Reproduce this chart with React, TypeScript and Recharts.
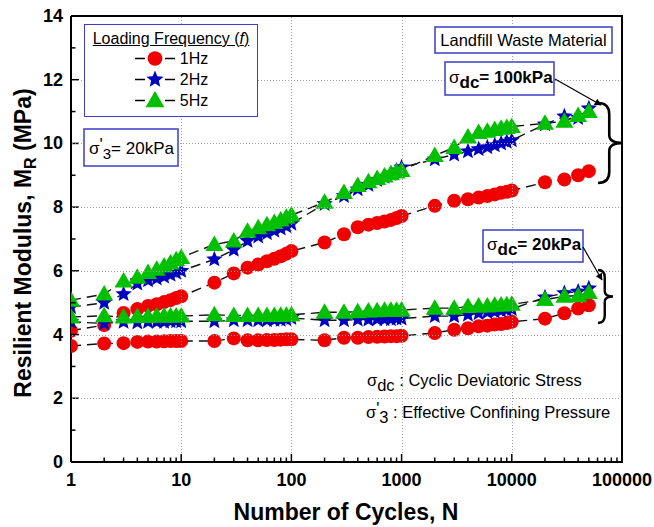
import React from 'react';
import { ComposedChart, Line, XAxis, YAxis, Legend } from 'recharts';

// Number of loading cycles at which M_R was recorded
const cycles = [
  1, 2, 3, 4, 5, 6, 7, 8, 9, 10,
  20, 30, 40, 50, 60, 70, 80, 90, 100,
  200, 300, 400, 500, 600, 700, 800, 900, 1000,
  2000, 3000, 4000, 5000, 6000, 7000, 8000, 9000, 10000,
  20000, 30000, 40000, 50000,
];

// Resilient modulus (MPa), sigma_dc = 100 kPa
const mr1Hz100 = [
  4.12, 4.3, 4.68, 4.8, 4.9, 4.95, 5.02, 5.08, 5.15, 5.2,
  5.63, 5.92, 6.1, 6.2, 6.3, 6.38, 6.46, 6.54, 6.62,
  6.89, 7.15, 7.37, 7.45, 7.5, 7.55, 7.6, 7.66, 7.72,
  8.04, 8.2, 8.25, 8.3, 8.35, 8.4, 8.45, 8.48, 8.52,
  8.78, 8.87, 9.0, 9.13,
];
const mr2Hz100 = [
  4.86, 5.0, 5.27, 5.6, 5.7, 5.76, 5.82, 5.88, 5.94, 6.0,
  6.36, 6.66, 6.94, 7.08, 7.18, 7.26, 7.33, 7.4, 7.48,
  8.1, 8.35, 8.56, 8.7, 8.85, 8.95, 9.05, 9.15, 9.25,
  9.5, 9.65, 9.75, 9.82, 9.88, 9.94, 10.0, 10.05, 10.1,
  10.6, 10.85, 10.8, 11.1,
];
const mr5Hz100 = [
  5.08, 5.27, 5.68, 5.8, 5.95, 6.05, 6.15, 6.25, 6.35, 6.42,
  6.83, 6.94, 7.24, 7.35, 7.45, 7.52, 7.6, 7.68, 7.75,
  8.15, 8.46, 8.68, 8.8, 8.9, 8.98, 9.05, 9.1, 9.15,
  9.62, 9.87, 10.2, 10.34, 10.38, 10.44, 10.48, 10.5, 10.53,
  10.63, 10.7, 10.88, 11.0,
];

// Resilient modulus (MPa), sigma_dc = 20 kPa
const mr1Hz20 = [
  3.64, 3.72, 3.73, 3.77, 3.78, 3.78, 3.79, 3.8, 3.8, 3.8,
  3.8, 3.88, 3.82, 3.82, 3.83, 3.83, 3.84, 3.85, 3.85,
  3.82, 3.9, 3.9, 3.92, 3.93, 3.94, 3.95, 3.95, 3.96,
  4.05, 4.15, 4.2, 4.26, 4.28, 4.32, 4.33, 4.36, 4.4,
  4.5, 4.67, 4.82, 4.92,
];
const mr2Hz20 = [
  4.4, 4.35, 4.4, 4.38, 4.4, 4.4, 4.4, 4.42, 4.42, 4.42,
  4.42, 4.45, 4.45, 4.45, 4.45, 4.46, 4.46, 4.48, 4.52,
  4.45, 4.45, 4.47, 4.47, 4.48, 4.48, 4.48, 4.5, 4.5,
  4.58, 4.58, 4.62, 4.67, 4.7, 4.72, 4.75, 4.78, 4.8,
  5.17, 5.3, 5.35, 5.45,
];
const mr5Hz20 = [
  4.55, 4.59, 4.55, 4.57, 4.57, 4.58, 4.58, 4.58, 4.58, 4.58,
  4.62, 4.6, 4.6, 4.6, 4.6, 4.6, 4.61, 4.61, 4.62,
  4.7, 4.7, 4.72, 4.74, 4.75, 4.76, 4.76, 4.76, 4.77,
  4.83, 4.83, 4.88, 4.9, 4.9, 4.92, 4.93, 4.94, 4.95,
  5.1, 5.2, 5.22, 5.32,
];

const xMajor = [1, 10, 100, 1000, 10000, 100000];
const xMinor = [1, 10, 100, 1000, 10000].flatMap((d) => [2, 3, 4, 5, 6, 7, 8, 9].map((k) => k * d));
const yMajor = [0, 2, 4, 6, 8, 10, 12, 14];
const yMinor = [1, 3, 5, 7, 9, 11, 13];
const xGrid = [10, 100, 1000, 10000];
const yGrid = [2, 4, 6, 8, 10, 12];

const W = 654;
const H = 527;
const PLOT = { left: 71, top: 16, right: 622, bottom: 462 };
const X_DECADES = 5;
const Y_MAX = 14;
const FONT = '"Liberation Sans", Arial, Helvetica, sans-serif';
const RED = '#f00000';
const BLUE = '#0000c0';
const GREEN = '#00c000';
const BOX = '#3c3cc8';
const GRID = '#a0a0a0';

type Shape = 'circle' | 'star' | 'triangle';

const series: { id: string; name: string; values: number[]; shape: Shape; color: string; legend: boolean }[] = [
  { id: 'r100', name: '1Hz', values: mr1Hz100, shape: 'circle', color: RED, legend: true },
  { id: 'r20', name: '1Hz, 20kPa', values: mr1Hz20, shape: 'circle', color: RED, legend: false },
  { id: 'b100', name: '2Hz', values: mr2Hz100, shape: 'star', color: BLUE, legend: true },
  { id: 'b20', name: '2Hz, 20kPa', values: mr2Hz20, shape: 'star', color: BLUE, legend: false },
  { id: 'g100', name: '5Hz', values: mr5Hz100, shape: 'triangle', color: GREEN, legend: true },
  { id: 'g20', name: '5Hz, 20kPa', values: mr5Hz20, shape: 'triangle', color: GREEN, legend: false },
];

const toRows = (values: number[]) => cycles.map((n, i) => ({ n, m: values[i] }));

// pixel positions of the grid lines, same mapping as the log x / linear y axes
const gridX = (v: number) => Math.round(PLOT.left + ((PLOT.right - PLOT.left) * Math.log10(v)) / X_DECADES) + 0.5;
const gridY = (v: number) => Math.round(PLOT.bottom - ((PLOT.bottom - PLOT.top) * v) / Y_MAX) + 0.5;

function starPoints(cx: number, cy: number, R: number, r: number) {
  const pts: string[] = [];
  for (let i = 0; i < 10; i++) {
    const rad = i % 2 === 0 ? R : r;
    const a = -Math.PI / 2 + (i * Math.PI) / 5;
    pts.push(`${cx + rad * Math.cos(a)},${cy + rad * Math.sin(a)}`);
  }
  return pts.join(' ');
}

function Marker({ cx, cy, shape, color, scale = 1 }: { cx: number; cy: number; shape: Shape; color: string; scale?: number }) {
  if (cx == null || cy == null) return null;
  const s = scale;
  if (shape === 'circle') return <circle cx={cx} cy={cy} r={7 * s} fill={color} />;
  if (shape === 'star') return <polygon points={starPoints(cx, cy, 8.6 * s, 3.8 * s)} fill={color} />;
  return <polygon points={`${cx},${cy - 9 * s} ${cx + 9 * s},${cy + 6.5 * s} ${cx - 9 * s},${cy + 6.5 * s}`} fill={color} />;
}

const XTick = (props: any) => {
  const { x, payload } = props;
  const v = payload.value;
  const major = xMajor.includes(v);
  return (
    <g>
      <line x1={x} x2={x} y1={PLOT.bottom} y2={PLOT.bottom - (major ? 8 : 4.5)} stroke="#000" strokeWidth={1.5} />
      {major && (
        <text x={x} y={PLOT.bottom + 24} textAnchor="middle" fontFamily={FONT} fontWeight="bold" fontSize={18} fill="#000">
          {v}
        </text>
      )}
    </g>
  );
};

const YTick = (props: any) => {
  const { y, payload } = props;
  const v = payload.value;
  const major = yMajor.includes(v);
  return (
    <g>
      <line x1={PLOT.left} x2={PLOT.left + (major ? 8 : 4.5)} y1={y} y2={y} stroke="#000" strokeWidth={1.5} />
      {major && (
        <text x={PLOT.left - 8} y={y + 6} textAnchor="end" fontFamily={FONT} fontWeight="bold" fontSize={18} fill="#000">
          {v}
        </text>
      )}
    </g>
  );
};

function LegendBox({ payload }: any) {
  const items = (payload ?? [])
    .map((p: any) => series.find((s) => s.legend && s.name === p.value))
    .filter(Boolean);
  return (
    <div
      style={{
        boxSizing: 'border-box',
        width: 174,
        height: 93,
        border: `1.5px solid ${BOX}`,
        background: '#fff',
        fontFamily: FONT,
        fontSize: 16,
        color: '#000',
      }}
    >
      <div style={{ textAlign: 'center', marginTop: 5, lineHeight: '18px', textDecoration: 'underline' }}>
        Loading Frequency (<i>f</i>)
      </div>
      {items.map((s: any) => (
        <div key={s.id} style={{ display: 'flex', alignItems: 'center', justifyContent: 'center', height: 21, lineHeight: '21px' }}>
          <svg width={42} height={21}>
            <line x1={1} x2={41} y1={10.5} y2={10.5} stroke="#000" strokeWidth={1.3} />
            <rect x={11} y={4} width={20} height={13} fill="#fff" />
            <Marker cx={21} cy={10.5} shape={s.shape} color={s.color} scale={1.05} />
          </svg>
          <span style={{ marginLeft: 4 }}>{s.name}</span>
        </div>
      ))}
    </div>
  );
}

// curly brace opening to the left, tip pointing right
function bracePath(x: number, y0: number, y1: number, w: number) {
  const h = y1 - y0;
  const m = y0 + h / 2;
  const xm = x + w * 0.45;
  return [
    `M ${x} ${y0}`,
    `Q ${xm} ${y0} ${xm} ${y0 + h * 0.14}`,
    `L ${xm} ${m - h * 0.1}`,
    `Q ${xm} ${m} ${x + w} ${m}`,
    `Q ${xm} ${m} ${xm} ${m + h * 0.1}`,
    `L ${xm} ${y1 - h * 0.14}`,
    `Q ${xm} ${y1} ${x} ${y1}`,
  ].join(' ');
}

function Annotations() {
  return (
    <svg
      width={W}
      height={H}
      style={{ position: 'absolute', left: 0, top: 0, pointerEvents: 'none', zIndex: 1 }}
      fontFamily={FONT}
    >
      <defs>
        <marker id="arrowHead" viewBox="0 0 10 10" refX="9" refY="5" markerWidth="9" markerHeight="7" orient="auto" markerUnits="userSpaceOnUse">
          <path d="M0,0 L10,5 L0,10 z" fill="#000" />
        </marker>
      </defs>

      {/* dotted grid at the major ticks and the top/right frame */}
      {yGrid.map((v) => (
        <line key={`gy${v}`} x1={PLOT.left + 1} x2={PLOT.right - 1} y1={gridY(v)} y2={gridY(v)} stroke={GRID} strokeWidth={1} strokeDasharray="1 2" />
      ))}
      {xGrid.map((v) => (
        <line key={`gx${v}`} x1={gridX(v)} x2={gridX(v)} y1={PLOT.top + 1} y2={PLOT.bottom - 9} stroke={GRID} strokeWidth={1} strokeDasharray="1 2" />
      ))}
      <line x1={PLOT.left} x2={PLOT.right + 1} y1={PLOT.top} y2={PLOT.top} stroke="#000" strokeWidth={2} />
      <line x1={PLOT.right} x2={PLOT.right} y1={PLOT.top} y2={PLOT.bottom + 1} stroke="#000" strokeWidth={2} />

      {/* axis titles */}
      <text transform="translate(31,243) rotate(-90)" textAnchor="middle" fontSize={23} fontWeight="bold" fill="#000">
        Resilient Modulus, M<tspan fontSize={16} dy={5}>R</tspan>
        <tspan dy={-5}> (MPa)</tspan>
      </text>
      <text x={346} y={520} textAnchor="middle" fontSize={23} fontWeight="bold" fill="#000">
        Number of Cycles, N
      </text>

      {/* confining pressure box */}
      <rect x={84} y={129} width={94} height={37} fill="#fff" stroke={BOX} strokeWidth={1.5} />
      <text x={89} y={154} fontSize={17} fill="#000">
        σ<tspan dy={-4}>'</tspan>
        <tspan dy={9} fontSize={15}>3</tspan>
        <tspan dy={-5}>= 20kPa</tspan>
      </text>

      {/* material box */}
      <rect x={435} y={27} width={177} height={26} fill="#fff" stroke={BOX} strokeWidth={1.5} />
      <text x={523.5} y={46} textAnchor="middle" fontSize={16.5} fill="#000">
        Landfill Waste Material
      </text>

      {/* sigma_dc = 100 kPa */}
      <rect x={445} y={62} width={109} height={33} fill="#fff" stroke={BOX} strokeWidth={1.5} />
      <text x={449} y={83} fontSize={17} fill="#000">
        σ<tspan dy={5} fontWeight="bold">dc</tspan>
        <tspan dy={-5} fontWeight="bold">= 100kPa</tspan>
      </text>
      <line x1={555} y1={79} x2={601} y2={105} stroke="#000" strokeWidth={1.2} markerEnd="url(#arrowHead)" />
      <path d={bracePath(598, 103, 183, 25)} fill="none" stroke="#000" strokeWidth={2.6} />

      {/* sigma_dc = 20 kPa */}
      <rect x={483} y={230} width={100} height={32} fill="#fff" stroke={BOX} strokeWidth={1.5} />
      <text x={487} y={250} fontSize={17} fill="#000">
        σ<tspan dy={5} fontWeight="bold">dc</tspan>
        <tspan dy={-5} fontWeight="bold">= 20kPa</tspan>
      </text>
      <line x1={583} y1={247} x2={602} y2={280} stroke="#000" strokeWidth={1.2} markerEnd="url(#arrowHead)" />
      <path d={bracePath(598, 270, 323, 15)} fill="none" stroke="#000" strokeWidth={2.4} />

      {/* symbol notes */}
      <text x={367} y={386} fontSize={16.5} fill="#000">
        σ<tspan dy={5}>dc</tspan>
        <tspan dy={-5}> : Cyclic Deviatoric Stress</tspan>
      </text>
      <text x={366} y={418} fontSize={16.5} fill="#000">
        σ<tspan dy={-4}>'</tspan>
        <tspan dy={9}>3</tspan>
        <tspan dy={-5}> : Effective Confining Pressure</tspan>
      </text>
    </svg>
  );
}

export default function App() {
  const xTicks = [...xMajor, ...xMinor].sort((a, b) => a - b);
  const yTicks = [...yMajor, ...yMinor].sort((a, b) => a - b);

  return (
    <div style={{ position: 'absolute', left: 0, top: 0, width: W, height: H, background: '#fff' }}>
      <ComposedChart width={W} height={H} margin={{ top: PLOT.top, right: W - PLOT.right, left: 0, bottom: 0 }}>
        <XAxis
          type="number"
          dataKey="n"
          scale="log"
          domain={[1, 100000]}
          allowDataOverflow
          ticks={xTicks}
          interval={0}
          height={H - PLOT.bottom}
          axisLine={{ stroke: '#000', strokeWidth: 2 }}
          tickLine={false}
          tick={<XTick />}
        />
        <YAxis
          type="number"
          domain={[0, Y_MAX]}
          ticks={yTicks}
          interval={0}
          width={PLOT.left}
          axisLine={{ stroke: '#000', strokeWidth: 2 }}
          tickLine={false}
          tick={<YTick />}
        />

        {/* dashed connectors underneath all markers */}
        {series.map((s) => (
          <Line
            key={`${s.id}-line`}
            data={toRows(s.values)}
            dataKey="m"
            name={`${s.name} line`}
            type="linear"
            stroke="#111"
            strokeWidth={1.4}
            strokeDasharray="10 6"
            dot={false}
            activeDot={false}
            legendType="none"
            isAnimationActive={false}
          />
        ))}

        {/* markers */}
        {series.map((s) => (
          <Line
            key={`${s.id}-pts`}
            data={toRows(s.values)}
            dataKey="m"
            name={s.name}
            type="linear"
            stroke="none"
            legendType={s.legend ? 'circle' : 'none'}
            dot={(p: any) => <Marker key={`${s.id}-${p.index}`} cx={p.cx} cy={p.cy} shape={s.shape} color={s.color} />}
            activeDot={false}
            isAnimationActive={false}
          />
        ))}

        <Legend
          layout="horizontal"
          verticalAlign="middle"
          align="center"
          wrapperStyle={{ left: 84, top: 24, width: 174, height: 93, zIndex: 2 }}
          content={(props: any) => <LegendBox payload={props.payload} />}
        />
      </ComposedChart>
      <Annotations />
    </div>
  );
}
